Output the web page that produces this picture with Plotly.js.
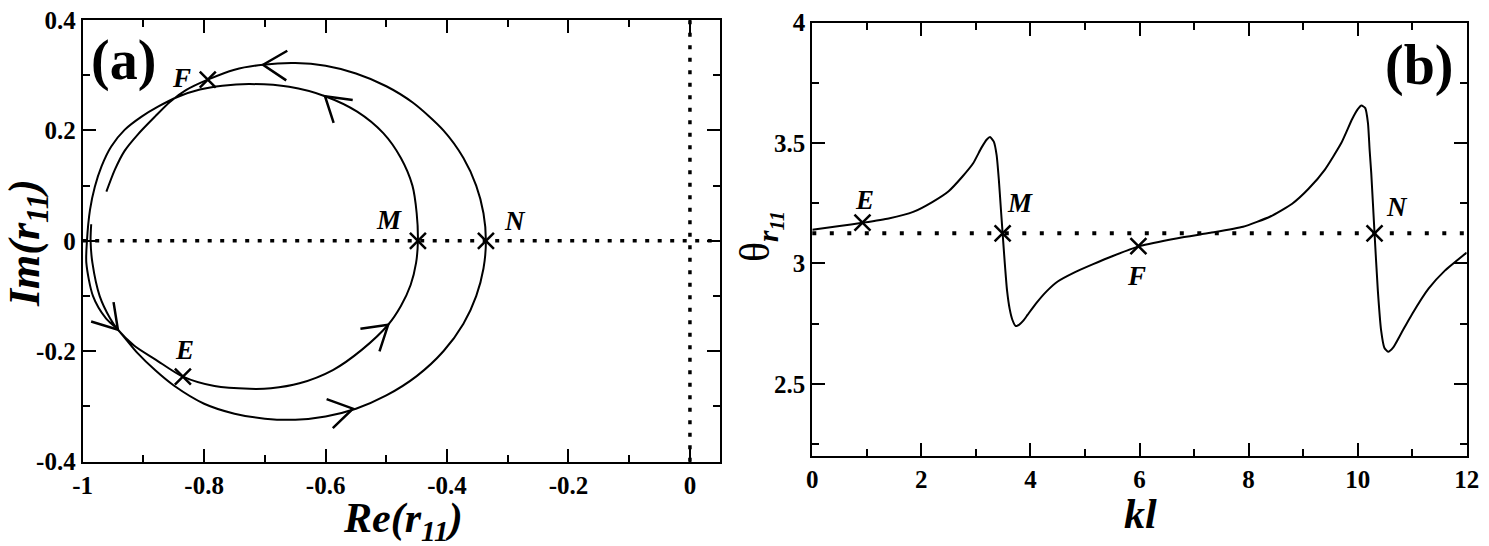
<!DOCTYPE html>
<html>
<head>
<meta charset="utf-8">
<script src="https://cdn.plot.ly/plotly-3.0.1.min.js"></script>
<style>html,body{margin:0;padding:0;background:#fff}#chart{width:1489px;height:546px}</style>
</head>
<body>
<div id="chart"></div>
<script>
// ---------- Panel (a): r11 in the complex plane (Re, Im) ----------
const pathA = [
  [-0.986, 0.030], [-0.987, 0.000], [-0.984, -0.040], [-0.972, -0.100], [-0.955, -0.140], [-0.942, -0.161],
  [-0.915, -0.190], [-0.880, -0.215], [-0.835, -0.246], [-0.783, -0.263], [-0.725, -0.268], [-0.690, -0.267],
  [-0.643, -0.258], [-0.588, -0.234], [-0.540, -0.197], [-0.497, -0.152], [-0.476, -0.118], [-0.460, -0.080],
  [-0.451, -0.040], [-0.448, 0.000], [-0.450, 0.050], [-0.457, 0.100], [-0.476, 0.150], [-0.505, 0.195],
  [-0.548, 0.234], [-0.601, 0.262], [-0.660, 0.279], [-0.725, 0.284], [-0.770, 0.281], [-0.807, 0.274],
  [-0.843, 0.261], [-0.876, 0.243], [-0.903, 0.225], [-0.931, 0.201], [-0.953, 0.171], [-0.969, 0.135],
  [-0.980, 0.098], [-0.988, 0.056], [-0.993, 0.000], [-0.994, -0.040], [-0.983, -0.100], [-0.962, -0.140],
  [-0.942, -0.161], [-0.910, -0.203], [-0.880, -0.235], [-0.850, -0.262], [-0.800, -0.295], [-0.750, -0.313],
  [-0.700, -0.322], [-0.650, -0.324], [-0.600, -0.318], [-0.550, -0.304], [-0.500, -0.280], [-0.450, -0.245],
  [-0.406, -0.200], [-0.373, -0.150], [-0.352, -0.100], [-0.340, -0.050], [-0.336, 0.000], [-0.340, 0.050],
  [-0.352, 0.100], [-0.373, 0.150], [-0.406, 0.200], [-0.456, 0.250], [-0.500, 0.280], [-0.550, 0.303],
  [-0.600, 0.317], [-0.650, 0.322], [-0.703, 0.319], [-0.750, 0.310], [-0.794, 0.292], [-0.830, 0.273],
  [-0.856, 0.252], [-0.881, 0.225], [-0.909, 0.193], [-0.931, 0.163], [-0.947, 0.129], [-0.961, 0.089]
];
const pointNames = ['E', 'M', 'F', 'N'];
const pointRe = [-0.835, -0.448, -0.794, -0.336];
const pointIm = [-0.246, 0.000, 0.292, 0.000];
const nameRe = [-0.832, -0.495, -0.837, -0.2875];
const nameIm = [-0.1975, 0.038, 0.295, 0.036];
// direction arrows along the path: tip position and heading (degrees, counter-clockwise from +x)
const arrowRe = [-0.703, -0.601, -0.942, -0.497, -0.555];
const arrowIm = [0.319, 0.262, -0.161, -0.152, -0.304];
const arrowDeg = [178, 140, -49, 40, 12];
const xTicksA = [-1, -0.8, -0.6, -0.4, -0.2, 0];
const xTickTextA = ['-1', '-0.8', '-0.6', '-0.4', '-0.2', '0'];
const xMinorA = [-0.9, -0.7, -0.5, -0.3, -0.1];
const yTicksA = [-0.4, -0.2, 0, 0.2, 0.4];
const yTickTextA = ['-0.4', '-0.2', '0', '0.2', '0.4'];
const yMinorA = [-0.3, -0.1, 0.1, 0.3];

// ---------- Panel (b): phase theta_r11 versus kl ----------
const kl = [0, 0.5, 0.92, 1.4, 1.85, 2.2, 2.5, 2.75, 2.95, 3.1, 3.2, 3.26, 3.33, 3.38, 3.42, 3.46, 3.49, 3.53,
  3.57, 3.62, 3.67, 3.73, 3.79, 3.87, 3.95, 4.1, 4.3, 4.5, 4.8, 5.15, 5.5, 6.0, 6.7, 7.3, 7.9, 8.4, 8.8, 9.1,
  9.4, 9.7, 9.9, 10.0, 10.07, 10.14, 10.19, 10.22, 10.25, 10.31, 10.37, 10.43, 10.49, 10.56, 10.65, 10.8,
  11.0, 11.3, 11.6, 12.0];
const theta = [3.14, 3.155, 3.169, 3.187, 3.214, 3.255, 3.30, 3.36, 3.416, 3.48, 3.515, 3.525, 3.505, 3.45,
  3.35, 3.22, 3.125, 3.0, 2.89, 2.81, 2.765, 2.74, 2.745, 2.762, 2.787, 2.833, 2.885, 2.925, 2.962, 2.997,
  3.03, 3.072, 3.105, 3.127, 3.152, 3.195, 3.248, 3.31, 3.39, 3.50, 3.60, 3.64, 3.656, 3.645, 3.582, 3.471,
  3.374, 3.125, 2.889, 2.723, 2.65, 2.633, 2.65, 2.71, 2.79, 2.895, 2.97, 3.045];
const pointKl = [0.92, 3.49, 5.98, 10.31];
const pointTheta = [3.169, 3.125, 3.072, 3.125];
const nameKl = [0.964, 3.807, 5.947, 10.728];
const nameTheta = [3.265, 3.253, 2.947, 3.235];
const refTheta = 3.125;
const xTicksB = [0, 2, 4, 6, 8, 10, 12];
const xTickTextB = ['0', '2', '4', '6', '8', '10', '12'];
const xMinorB = [1, 3, 5, 7, 9, 11];
const yTicksB = [2.5, 3, 3.5, 4];
const yTickTextB = ['2.5', '3', '3.5', '4'];
const yMinorB = [2.25, 2.75, 3.25, 3.75];

// ---------- build ----------
const W = 1489, H = 546;
const serif = 'Liberation Serif, Times New Roman, serif';
const tickFont = {family: serif, size: 25, color: '#000', weight: 'bold'};
const labelFont = {family: serif, size: 27, color: '#000', weight: 'bold', style: 'italic'};
const titleFont = {family: serif, size: 42, color: '#000', weight: 'bold', style: 'italic'};

function axis(domain, range, tv, tt, minor, anchor) {
  return {
    domain: domain, range: range, anchor: anchor,
    tickmode: 'array', tickvals: tv, ticktext: tt,
    ticks: 'inside', ticklen: 13, tickwidth: 2, tickcolor: '#000',
    minor: {tickmode: 'array', tickvals: minor, ticks: 'inside', ticklen: 7, tickwidth: 2, tickcolor: '#000', showgrid: false},
    showline: true, linewidth: 2, linecolor: '#000', mirror: 'allticks',
    showgrid: false, zeroline: false, tickfont: tickFont, fixedrange: true
  };
}

const traces = [
  {x: pathA.map(p => p[0]), y: pathA.map(p => p[1]), xaxis: 'x', yaxis: 'y', mode: 'lines',
   line: {color: '#000', width: 2, shape: 'spline', smoothing: 0.8}, hoverinfo: 'skip'},
  {x: pointRe, y: pointIm, xaxis: 'x', yaxis: 'y', mode: 'markers',
   marker: {symbol: 'x-thin-open', size: 16, color: '#000', line: {width: 2.5, color: '#000'}}},
  {x: kl, y: theta, xaxis: 'x2', yaxis: 'y2', mode: 'lines',
   line: {color: '#000', width: 2, shape: 'spline', smoothing: 0.5}, hoverinfo: 'skip'},
  {x: pointKl, y: pointTheta, xaxis: 'x2', yaxis: 'y2', mode: 'markers',
   marker: {symbol: 'x-thin-open', size: 16, color: '#000', line: {width: 2.5, color: '#000'}}}
];

const shapes = [
  {type: 'line', xref: 'x domain', yref: 'y', x0: 0, x1: 1, y0: 0, y1: 0, layer: 'below',
   line: {color: '#000', width: 3.5, dash: '4px,8.5px'}},
  {type: 'line', xref: 'x', yref: 'y domain', x0: 0, x1: 0, y0: 0, y1: 1, layer: 'below',
   line: {color: '#000', width: 3.5, dash: '4px,8.5px'}},
  {type: 'line', xref: 'x2 domain', yref: 'y2', x0: 0, x1: 1, y0: refTheta, y1: refTheta, layer: 'below',
   line: {color: '#000', width: 4, dash: '4px,13.5px'}}
];
const armLen = 28, halfAngle = 32 * Math.PI / 180;
arrowRe.forEach((re, i) => {
  const d = arrowDeg[i] * Math.PI / 180;
  const a1 = d + Math.PI + halfAngle, a2 = d + Math.PI - halfAngle;
  const path = 'M' + (armLen * Math.cos(a1)).toFixed(2) + ',' + (armLen * Math.sin(a1)).toFixed(2) +
    ' L0,0 L' + (armLen * Math.cos(a2)).toFixed(2) + ',' + (armLen * Math.sin(a2)).toFixed(2);
  shapes.push({type: 'path', xref: 'x', yref: 'y', xsizemode: 'pixel', ysizemode: 'pixel',
    xanchor: re, yanchor: arrowIm[i], path: path, line: {color: '#000', width: 2.5}});
});

const annotations = [];
pointNames.forEach((n, i) => {
  annotations.push({xref: 'x', yref: 'y', x: nameRe[i], y: nameIm[i], text: n, showarrow: false,
    xanchor: 'center', yanchor: 'middle', font: labelFont});
  annotations.push({xref: 'x2', yref: 'y2', x: nameKl[i], y: nameTheta[i], text: n, showarrow: false,
    xanchor: 'center', yanchor: 'middle', font: labelFont});
});
annotations.push(
  {xref: 'x domain', yref: 'y domain', x: 0.064, y: 0.909, text: '(a)', showarrow: false,
   xanchor: 'center', yanchor: 'middle', font: {family: serif, size: 56, color: '#000', weight: 'bold'}},
  {xref: 'x2 domain', yref: 'y2 domain', x: 0.927, y: 0.902, text: '(b)', showarrow: false,
   xanchor: 'center', yanchor: 'middle', font: {family: serif, size: 56, color: '#000', weight: 'bold'}},
  {xref: 'paper', yref: 'paper', x: 403 / W, y: 1 - 521 / H, text: 'Re(r<sub>11</sub>)', showarrow: false,
   xanchor: 'center', yanchor: 'middle', font: titleFont},
  {xref: 'paper', yref: 'paper', x: 28 / W, y: 1 - 243 / H, text: 'Im(r<sub>11</sub>)', showarrow: false,
   textangle: -90, xanchor: 'center', yanchor: 'middle', font: {family: serif, size: 44, color: '#000', weight: 'bold', style: 'italic'}},
  {xref: 'paper', yref: 'paper', x: 1140 / W, y: 1 - 514 / H, text: 'kl', showarrow: false,
   xanchor: 'center', yanchor: 'middle', font: titleFont},
  {xref: 'paper', yref: 'paper', x: 760 / W, y: 1 - 237 / H, text: 'θ<sub><i><b>r<sub>11</sub></b></i></sub>', showarrow: false,
   textangle: -90, xanchor: 'center', yanchor: 'middle', font: {family: serif, size: 42, color: '#000'}}
);

const layout = {
  width: W, height: H, margin: {l: 0, r: 0, t: 0, b: 0},
  paper_bgcolor: '#fff', plot_bgcolor: '#fff', showlegend: false,
  xaxis: axis([82.7 / W, 720.3 / W], [-1, 0.05], xTicksA, xTickTextA, xMinorA, 'y'),
  yaxis: axis([1 - 461.7 / H, 1 - 20 / H], [-0.4, 0.4], yTicksA, yTickTextA, yMinorA, 'x'),
  xaxis2: axis([812.3 / W, 1466.7 / W], [0, 12], xTicksB, xTickTextB, xMinorB, 'y2'),
  yaxis2: axis([1 - 456 / H, 1 - 22.7 / H], [2.2, 4], yTicksB, yTickTextB, yMinorB, 'x2'),
  shapes: shapes, annotations: annotations
};

Plotly.newPlot('chart', traces, layout, {displayModeBar: false, staticPlot: true});
</script>
</body>
</html>
